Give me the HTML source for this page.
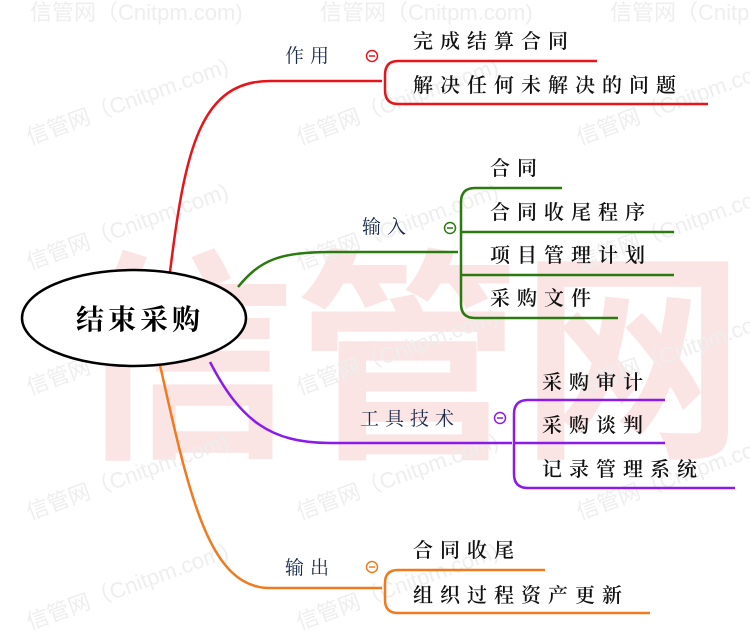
<!DOCTYPE html>
<html><head><meta charset="utf-8"><style>
body{margin:0;background:#fff;}
svg{display:block;}
.t{font-family:"Liberation Serif","Noto Serif CJK SC",serif;font-size:20px;letter-spacing:7px;fill:#111;font-weight:600;}
.h{font-family:"Liberation Serif","Noto Serif CJK SC",serif;font-size:19px;letter-spacing:6px;fill:#1a2a4a;}
.w{font-family:"Liberation Sans","Noto Sans CJK SC",sans-serif;font-size:22px;fill:#eeeeee;}
</style></head><body>
<svg width="750" height="639" viewBox="0 0 750 639">
<text x="70" y="440" style="font-family:'Noto Sans CJK SC',sans-serif;font-size:225px;font-weight:bold;fill:#fbe4e4;">信管网</text>
<g class="w">
<text x="30" y="20">信管网（Cnitpm.com)</text><text x="320" y="20">信管网（Cnitpm.com)</text><text x="610" y="20">信管网（Cnitpm.com)</text>
<text x="30" y="145" transform="rotate(-20 30 145)">信管网（Cnitpm.com)</text>
<text x="300" y="145" transform="rotate(-20 300 145)">信管网（Cnitpm.com)</text>
<text x="580" y="145" transform="rotate(-20 580 145)">信管网（Cnitpm.com)</text>
<text x="30" y="270" transform="rotate(-20 30 270)">信管网（Cnitpm.com)</text>
<text x="300" y="270" transform="rotate(-20 300 270)">信管网（Cnitpm.com)</text>
<text x="580" y="270" transform="rotate(-20 580 270)">信管网（Cnitpm.com)</text>
<text x="30" y="395" transform="rotate(-20 30 395)">信管网（Cnitpm.com)</text>
<text x="300" y="395" transform="rotate(-20 300 395)">信管网（Cnitpm.com)</text>
<text x="580" y="395" transform="rotate(-20 580 395)">信管网（Cnitpm.com)</text>
<text x="30" y="520" transform="rotate(-20 30 520)">信管网（Cnitpm.com)</text>
<text x="300" y="520" transform="rotate(-20 300 520)">信管网（Cnitpm.com)</text>
<text x="580" y="520" transform="rotate(-20 580 520)">信管网（Cnitpm.com)</text>
<text x="30" y="630" transform="rotate(-20 30 630)">信管网（Cnitpm.com)</text>
<text x="300" y="630" transform="rotate(-20 300 630)">信管网（Cnitpm.com)</text>
</g>

<g fill="none" stroke-width="2.5">
<path d="M170 272 C185 150 200 81 270 81 L382 81" stroke="#e8141b"/>
<path d="M597 61 L398 61 Q385 61 385 75 L385 90 Q385 104 398 104 L708 104" stroke="#e8141b"/>
<path d="M238 287 C260 260 280 252 330 252 L458 252" stroke="#2a7a10"/>
<path d="M562 188 L475 188 Q461 188 461 202 L461 304 Q461 318 475 318 L618 318" stroke="#2a7a10"/>
<path d="M461 232 L674 232 M461 275 L674 275" stroke="#2a7a10"/>
<path d="M210 362 C240 420 270 443 330 443 L512 443" stroke="#8b1be8"/>
<path d="M665 400 L528 400 Q514 400 514 414 L514 474 Q514 488 528 488 L735 488" stroke="#8b1be8"/>
<path d="M514 443 L665 443" stroke="#8b1be8"/>
<path d="M160 365 C190 500 210 588 270 588 L382 588" stroke="#f07a20"/>
<path d="M545 570 L398 570 Q385 570 385 583 L385 600 Q385 613 398 613 L650 613" stroke="#f07a20"/>
</g>
<g fill="#fff" stroke-width="1.5">
<circle cx="372" cy="56" r="5.5" stroke="#e8141b"/><line x1="369" y1="56" x2="375" y2="56" stroke="#e8141b"/>
<circle cx="450" cy="228" r="5.5" stroke="#2a7a10"/><line x1="447" y1="228" x2="453" y2="228" stroke="#2a7a10"/>
<circle cx="500" cy="418" r="5.5" stroke="#8b1be8"/><line x1="497" y1="418" x2="503" y2="418" stroke="#8b1be8"/>
<circle cx="372" cy="567" r="5.5" stroke="#f07a20"/><line x1="369" y1="567" x2="375" y2="567" stroke="#f07a20"/>
</g>
<ellipse cx="134" cy="318" rx="112" ry="48" fill="#fff" stroke="#000" stroke-width="2.5"/>
<text x="76" y="329" style="font-family:'Noto Serif CJK SC',serif;font-size:28px;font-weight:bold;letter-spacing:4px;fill:#000;">结束采购</text>

<text class="h" x="285" y="62">作用</text>
<text class="h" x="362" y="233">输入</text>
<text class="h" x="360" y="425">工具技术</text>
<text class="h" x="285" y="574">输出</text>

<text class="t" x="413" y="48">完成结算合同</text>
<text class="t" x="413" y="92">解决任何未解决的问题</text>
<text class="t" x="490" y="175">合同</text>
<text class="t" x="490" y="219">合同收尾程序</text>
<text class="t" x="490" y="262">项目管理计划</text>
<text class="t" x="490" y="305">采购文件</text>
<text class="t" x="542" y="389">采购审计</text>
<text class="t" x="542" y="432">采购谈判</text>
<text class="t" x="542" y="476">记录管理系统</text>
<text class="t" x="413" y="557">合同收尾</text>
<text class="t" x="413" y="602">组织过程资产更新</text>
</svg>
</body></html>
